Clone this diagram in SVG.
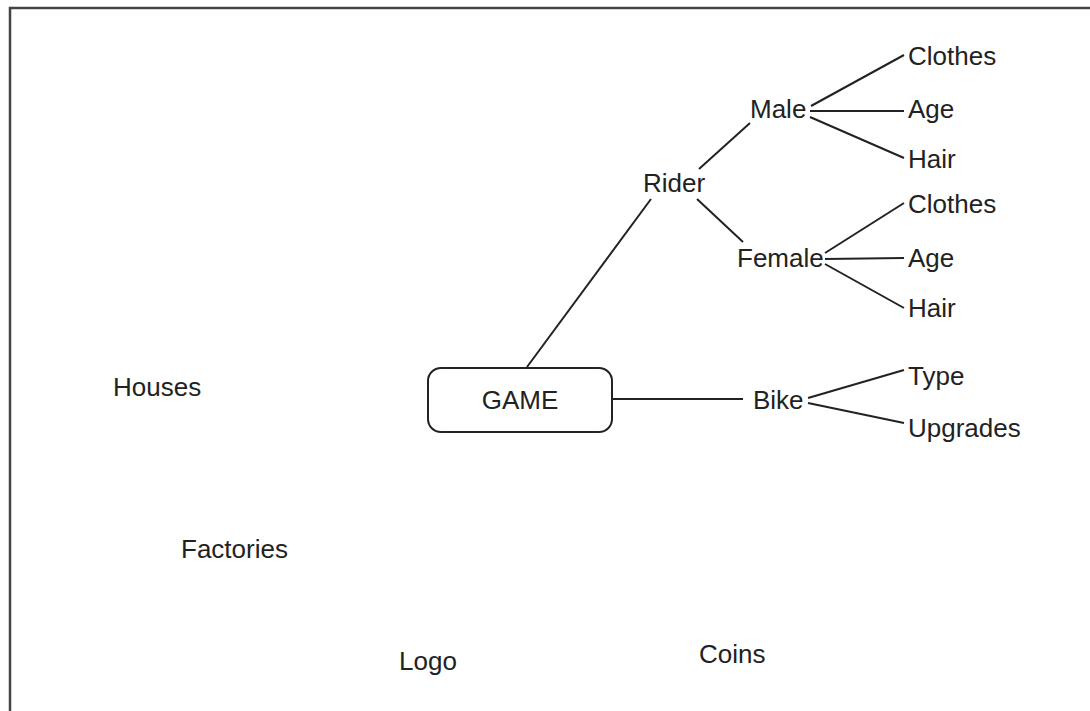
<svg xmlns="http://www.w3.org/2000/svg" width="1090" height="711" viewBox="0 0 1090 711">
<style>
text{font-family:"Liberation Sans",Arial,sans-serif;font-size:26px;fill:#222}
.c line{stroke:#222;stroke-width:2;fill:none}
.frame{stroke:#444;stroke-width:2.5;fill:none}
</style>
<rect width="1090" height="711" fill="#fff"/>
<path class="frame" d="M10,711 V8 H1090"/>
<g class="c" id="connectors">
<line x1="527" y1="367" x2="651" y2="199"/>
<line x1="699" y1="169" x2="750" y2="123"/>
<line x1="697" y1="199" x2="743" y2="242"/>
<line x1="811" y1="106" x2="904" y2="55"/>
<line x1="810" y1="111" x2="904" y2="111"/>
<line x1="810" y1="117" x2="904" y2="158"/>
<line x1="825" y1="253" x2="904" y2="203"/>
<line x1="825" y1="259" x2="904" y2="258"/>
<line x1="825" y1="264" x2="904" y2="308"/>
<line x1="613" y1="399" x2="743" y2="399"/>
<line x1="808" y1="398" x2="904" y2="370"/>
<line x1="808" y1="403" x2="904" y2="423"/>
</g>
<g id="game"><rect x="428" y="368" width="184" height="64" rx="13" fill="#fff" stroke="#222" stroke-width="2"/><text x="520" y="409" text-anchor="middle">GAME</text></g>
<g id="rider"><text x="643" y="192">Rider</text></g>
<g id="male"><text x="750" y="118">Male</text></g>
<g id="female"><text x="737" y="267">Female</text></g>
<g id="m-clothes"><text x="908" y="65">Clothes</text></g>
<g id="m-age"><text x="908" y="118">Age</text></g>
<g id="m-hair"><text x="908" y="168">Hair</text></g>
<g id="f-clothes"><text x="908" y="213">Clothes</text></g>
<g id="f-age"><text x="908" y="267">Age</text></g>
<g id="f-hair"><text x="908" y="317">Hair</text></g>
<g id="bike"><text x="753" y="409">Bike</text></g>
<g id="type"><text x="908" y="385">Type</text></g>
<g id="upgrades"><text x="908" y="437">Upgrades</text></g>
<g id="houses"><text x="113" y="396">Houses</text></g>
<g id="factories"><text x="181" y="558">Factories</text></g>
<g id="logo"><text x="399" y="670">Logo</text></g>
<g id="coins"><text x="699" y="663">Coins</text></g>
</svg>
